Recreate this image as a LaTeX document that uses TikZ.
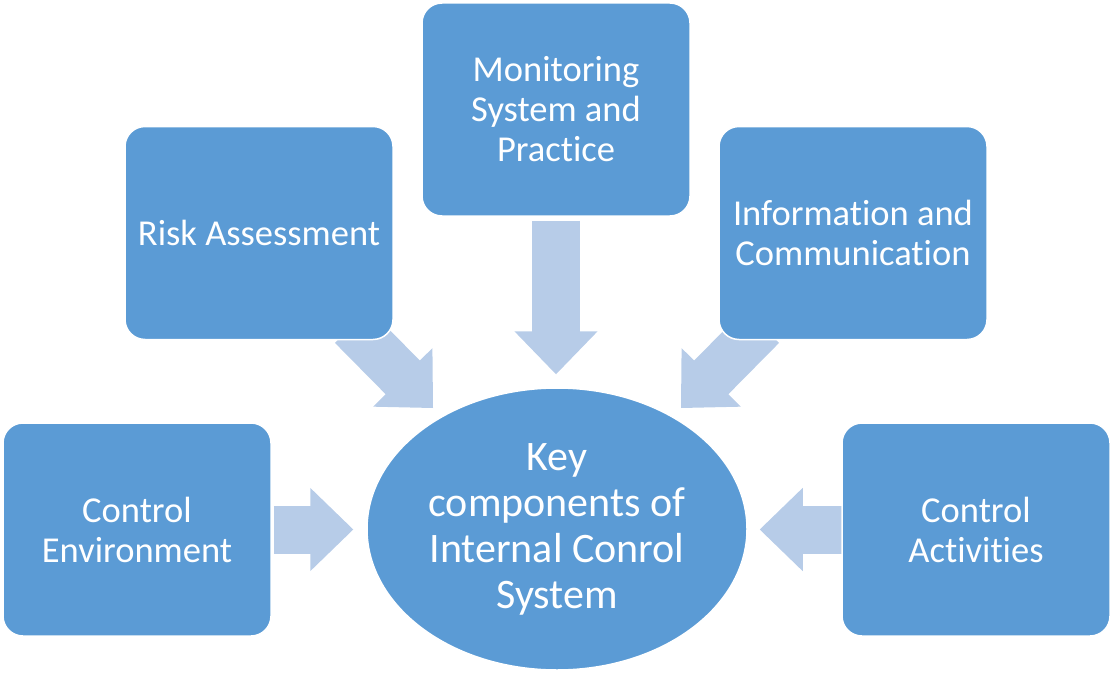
\documentclass[tikz,border=0pt]{standalone}
\usepackage{fontspec}
\setmainfont{Carlito}[Ligatures=NoCommon]
\usetikzlibrary{arrows.meta,shapes.geometric}
\pgfdeclarelayer{background}
\pgfsetlayers{background,main}
\definecolor{boxblue}{RGB}{91,155,213}
\definecolor{arrowblue}{RGB}{183,204,232}
\begin{document}
\begin{tikzpicture}[x=1pt,y=-1pt,
  comp/.style={draw=white, line width=1.5pt, fill=boxblue, rounded corners=20pt,
    minimum width=268pt, minimum height=213pt, inner sep=0pt, align=center,
    text=white, font=\fontsize{36.5}{40}\selectfont},
  hub/.style={ellipse, draw=white, line width=1.5pt, fill=boxblue,
    minimum width=380pt, minimum height=282pt, inner sep=0pt, align=center,
    text=white, font=\fontsize{42}{46}\selectfont},
  flow/.style={draw=arrowblue, line width=48pt,
    -{Triangle[length=43pt,width=83pt,line width=1.5pt]}}
]
\useasboundingbox (0,0) rectangle (1113,677);

% component boxes around the hub
\node[comp] (ce)  at (137,529.5) {Control\\Environment};
\node[comp] (ra)  at (259,233)   {Risk Assessment};
\node[comp] (mon) at (556,109.5) {Monitoring\\System and\\Practice};
\node[comp] (ic)  at (853,233)   {Information and\\Communication};
\node[comp] (ca)  at (976,529.5) {Control\\Activities};

% central hub
\node[hub] (key) at (557,529) {Key\\components of\\Internal Conrol\\System};

% ends of the diagonal arrows
\coordinate (raTail) at (352,326);
\coordinate (raTip)  at (433,408);
\coordinate (icTail) at (762,326);
\coordinate (icTip)  at (681,408);

% block arrows pointing at the hub, kept behind the boxes
\begin{pgfonlayer}{background}
  \draw[flow, shorten <=2pt, shorten >=13pt] (ce.east) -- (ce.east -| key.west);
  \draw[flow, shorten <=-3pt, shorten >=12pt] (ca.west) -- (ca.west -| key.east);
  \draw[flow, shorten <=4pt, shorten >=13pt] (mon.south) -- (mon.south |- key.north);
  \draw[flow] (raTail) -- (raTip);
  \draw[flow] (icTail) -- (icTip);
\end{pgfonlayer}
\end{tikzpicture}
\end{document}
